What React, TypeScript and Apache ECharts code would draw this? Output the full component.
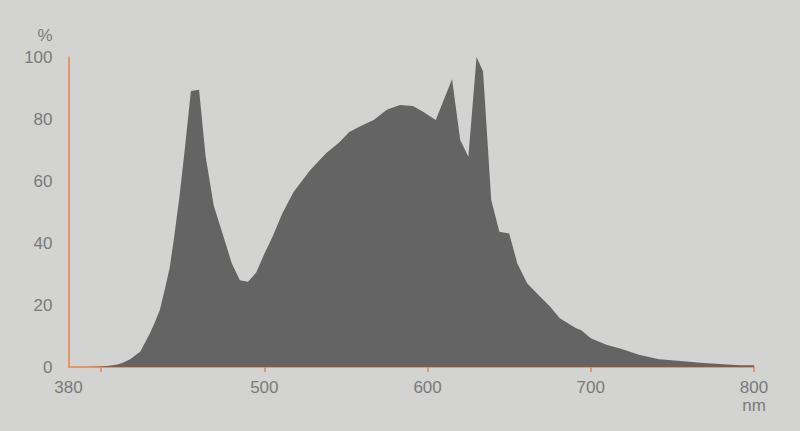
import React, { useEffect, useRef } from "react";
import * as echarts from "echarts";

const wavelengths = [
  380, 390, 400, 405, 410, 413, 418, 424, 430, 433, 436, 439, 442, 445, 448, 451, 455, 460,
  464, 469, 475, 480, 485, 490, 495, 500, 505, 511, 518, 528, 538, 546, 552, 560, 567, 575,
  583, 591, 597, 605, 615, 620, 625, 630, 634, 639, 644, 650, 655, 661, 669, 675, 681, 691,
  694, 700, 710, 718, 730, 742, 755, 767, 779, 791, 800,
];
const intensity = [
  0, 0, 0.2, 0.4, 0.8, 1.3, 2.6, 5, 11, 14.5, 18.5, 25, 32, 43, 55, 69, 89, 89.4,
  68, 52, 42, 33.5, 28, 27.5, 30.5, 36.5, 42, 49.5, 56.5, 63.5, 69, 72.5, 75.8, 78, 79.7, 83,
  84.5, 84.2, 82.4, 79.7, 92.8, 73.2, 67.8, 100, 95.3, 53.9, 43.6, 43.1, 33.4, 27, 22.7, 19.5, 15.7, 12.5,
  11.9, 9.3, 7.1, 6, 3.9, 2.5, 1.9, 1.4, 1.0, 0.6, 0.6,
];
const xLabelValues = [380, 500, 600, 700, 800];
const xTickValues = [400, 500, 600, 700, 800];
const yTicks = [0, 20, 40, 60, 80, 100];

const BG = "#d3d3d1";
const TEXT = "#7a7a7a";
const ORANGE = "#e8864e";
const FONT = "Liberation Sans, Arial, sans-serif";

export default function App() {
  const ref = useRef<HTMLDivElement>(null);
  useEffect(() => {
    document.body.style.margin = "0";
    const chart = echarts.init(ref.current!, null, { renderer: "svg" });
    chart.setOption({
      animation: false,
      backgroundColor: BG,
      grid: { left: 68.5, right: 46, top: 57, bottom: 64, outerBoundsMode: "none", containLabel: false },
      xAxis: {
        type: "value",
        min: 380,
        max: 800,
        splitLine: { show: false },
        axisLine: { show: true, lineStyle: { color: ORANGE, width: 1.5 } },
        axisTick: {
          show: true,
          customValues: xTickValues,
          length: 5,
          inside: false,
          lineStyle: { color: ORANGE, width: 1.5 },
        },
        axisLabel: {
          customValues: xLabelValues,
          color: TEXT,
          fontSize: 17,
          fontFamily: FONT,
          margin: 12,
        },
      },
      yAxis: {
        type: "value",
        min: 0,
        max: 100,
        interval: 20,
        splitLine: { show: false },
        axisLine: { show: true, lineStyle: { color: ORANGE, width: 1.5 } },
        axisTick: { show: false },
        axisLabel: {
          customValues: yTicks,
          color: TEXT,
          fontSize: 17,
          fontFamily: FONT,
          margin: 16,
        },
      },
      graphic: [
        {
          type: "text",
          x: 45,
          y: 35,
          style: { text: "%", fill: TEXT, font: `17px ${FONT}`, align: "center", verticalAlign: "middle" },
        },
        {
          type: "text",
          x: 754,
          y: 405,
          style: { text: "nm", fill: TEXT, font: `17px ${FONT}`, align: "center", verticalAlign: "middle" },
        },
      ],
      series: [
        {
          type: "line",
          data: wavelengths.map((w, i) => [w, intensity[i]]),
          showSymbol: false,
          symbol: "none",
          lineStyle: { width: 0, color: "#646464" },
          areaStyle: { color: "#646464", opacity: 1 },
          z: 1,
        },
      ],
    });
    return () => chart.dispose();
  }, []);
  return <div ref={ref} style={{ width: 800, height: 431 }} />;
}
